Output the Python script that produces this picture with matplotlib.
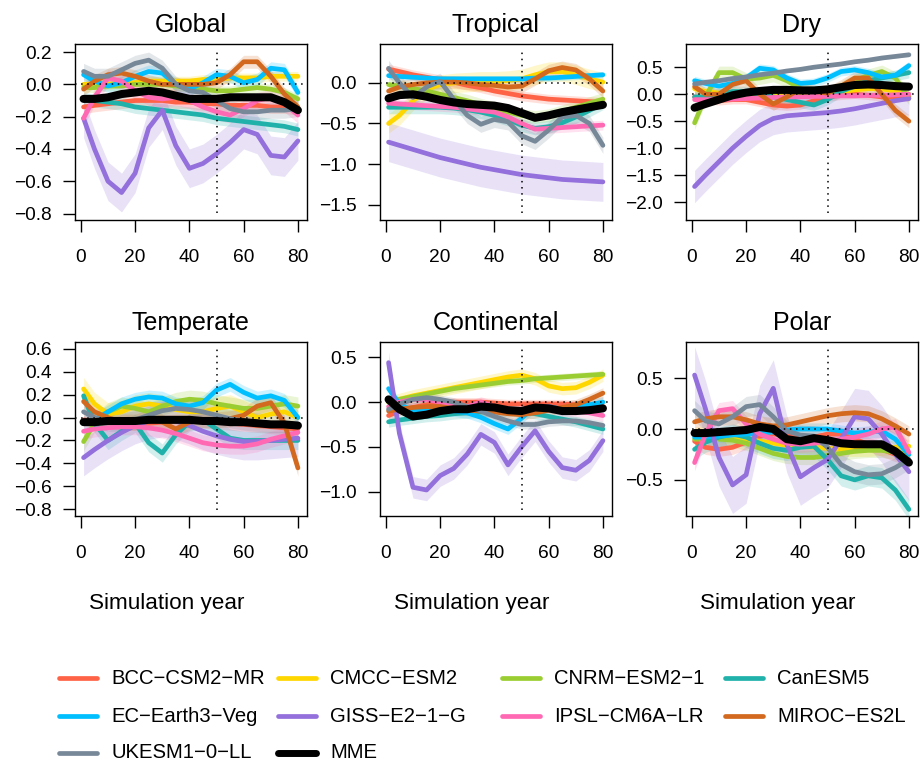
import matplotlib
matplotlib.use("Agg")
import matplotlib.pyplot as plt
import numpy as np
from matplotlib.lines import Line2D

plt.rcParams['font.family'] = ['Liberation Sans', 'DejaVu Sans']

# smoothed anomaly per model, read every 5 simulation years
years = [1, 5, 10, 15, 20, 25, 30, 35, 40, 45, 50, 55, 60, 65, 70, 75, 80]

models = ['BCC-CSM2-MR', 'CMCC-ESM2', 'CNRM-ESM2-1', 'CanESM5',
          'EC-Earth3-Veg', 'GISS-E2-1-G', 'IPSL-CM6A-LR', 'MIROC-ES2L',
          'UKESM1-0-LL', 'MME']
colours = ['tomato', 'gold', 'yellowgreen', 'lightseagreen', 'deepskyblue',
           'mediumpurple', 'hotpink', 'chocolate', 'lightslategray', 'black']

glob = [
    [-0.14, -0.13, -0.12, -0.11, -0.10, -0.10, -0.10, -0.11, -0.11, -0.12, -0.12, -0.13, -0.13, -0.13, -0.14, -0.14, -0.15],
    [0.00, 0.00, 0.00, 0.01, 0.01, 0.02, 0.02, 0.02, 0.02, 0.03, 0.03, 0.04, 0.04, 0.04, 0.05, 0.05, 0.05],
    [-0.02, -0.02, -0.01, -0.01, 0.00, 0.00, 0.00, -0.01, -0.02, -0.03, -0.04, -0.04, -0.03, -0.02, -0.03, -0.05, -0.09],
    [-0.09, -0.10, -0.11, -0.12, -0.14, -0.15, -0.16, -0.17, -0.18, -0.19, -0.21, -0.22, -0.23, -0.24, -0.25, -0.26, -0.28],
    [0.06, 0.02, -0.01, 0.01, 0.05, 0.08, 0.07, 0.00, -0.03, 0.01, 0.06, 0.05, 0.01, 0.03, 0.10, 0.09, -0.05],
    [-0.21, -0.40, -0.60, -0.67, -0.55, -0.27, -0.16, -0.38, -0.52, -0.49, -0.43, -0.36, -0.28, -0.31, -0.44, -0.45, -0.35],
    [-0.21, -0.08, 0.04, 0.02, -0.04, -0.08, -0.09, -0.08, -0.10, -0.14, -0.17, -0.19, -0.15, -0.10, -0.08, -0.12, -0.19],
    [-0.03, 0.02, 0.06, 0.07, 0.05, 0.02, 0.00, 0.00, 0.00, 0.00, 0.01, 0.06, 0.14, 0.14, 0.05, -0.06, -0.14],
    [0.08, 0.05, 0.05, 0.09, 0.13, 0.15, 0.10, 0.00, -0.04, -0.05, -0.10, -0.15, -0.17, -0.17, -0.16, -0.16, -0.15],
    [-0.09, -0.09, -0.08, -0.06, -0.05, -0.04, -0.05, -0.07, -0.09, -0.09, -0.09, -0.08, -0.08, -0.08, -0.08, -0.11, -0.16],
]
glob_ci = [0.04, 0.03, 0.03, 0.04, 0.04, 0.12, 0.05, 0.04, 0.05, 0.0]

tropical = [
    [0.17, 0.14, 0.10, 0.07, 0.04, 0.01, -0.03, -0.06, -0.10, -0.13, -0.16, -0.18, -0.20, -0.21, -0.22, -0.23, -0.24],
    [-0.50, -0.40, -0.22, -0.08, -0.02, 0.00, 0.01, 0.02, 0.02, 0.03, 0.05, 0.10, 0.14, 0.14, 0.10, 0.05, 0.01],
    [-0.02, -0.04, -0.07, -0.10, -0.14, -0.18, -0.22, -0.27, -0.31, -0.36, -0.40, -0.42, -0.40, -0.35, -0.30, -0.25, -0.20],
    [-0.30, -0.30, -0.30, -0.30, -0.30, -0.31, -0.33, -0.36, -0.40, -0.45, -0.52, -0.56, -0.54, -0.49, -0.42, -0.34, -0.25],
    [0.09, 0.08, 0.07, 0.06, 0.05, 0.05, 0.05, 0.05, 0.05, 0.05, 0.05, 0.06, 0.06, 0.07, 0.08, 0.09, 0.10],
    [-0.73, -0.77, -0.82, -0.87, -0.92, -0.96, -1.00, -1.04, -1.07, -1.10, -1.13, -1.15, -1.17, -1.19, -1.20, -1.21, -1.22],
    [-0.25, -0.26, -0.27, -0.28, -0.29, -0.30, -0.32, -0.34, -0.36, -0.42, -0.50, -0.57, -0.56, -0.55, -0.54, -0.53, -0.52],
    [-0.10, -0.05, -0.02, 0.00, 0.01, 0.01, 0.00, -0.02, -0.03, -0.05, -0.04, 0.05, 0.15, 0.19, 0.16, 0.05, -0.10],
    [0.18, 0.00, -0.18, -0.05, 0.02, -0.20, -0.40, -0.51, -0.45, -0.48, -0.65, -0.72, -0.58, -0.42, -0.40, -0.50, -0.77],
    [-0.19, -0.15, -0.14, -0.17, -0.21, -0.24, -0.26, -0.27, -0.28, -0.31, -0.37, -0.43, -0.40, -0.36, -0.33, -0.30, -0.27],
]
tropical_ci = [0.06, 0.12, 0.08, 0.08, 0.04, 0.24, 0.06, 0.08, 0.10, 0.0]

dry = [
    [-0.05, -0.10, -0.12, -0.10, -0.10, -0.15, -0.20, -0.22, -0.20, -0.12, -0.05, -0.02, 0.00, -0.02, -0.05, -0.05, -0.05],
    [0.10, 0.05, 0.02, 0.00, 0.00, 0.02, 0.03, 0.03, 0.02, 0.02, 0.03, 0.05, 0.08, 0.10, 0.10, 0.05, 0.00],
    [-0.53, -0.05, 0.40, 0.40, 0.28, 0.30, 0.35, 0.25, 0.10, 0.02, 0.02, 0.12, 0.25, 0.35, 0.42, 0.30, -0.08],
    [-0.05, -0.05, 0.00, 0.05, 0.05, 0.00, -0.05, -0.10, -0.15, -0.20, -0.10, 0.05, 0.15, 0.25, 0.30, 0.35, 0.40],
    [0.25, 0.20, 0.15, 0.20, 0.30, 0.48, 0.45, 0.30, 0.20, 0.22, 0.30, 0.42, 0.45, 0.40, 0.32, 0.35, 0.53],
    [-1.71, -1.50, -1.25, -1.00, -0.78, -0.58, -0.45, -0.40, -0.38, -0.36, -0.34, -0.31, -0.27, -0.22, -0.17, -0.12, -0.08],
    [-0.10, -0.10, -0.10, -0.09, -0.08, -0.07, -0.06, -0.05, -0.05, -0.04, -0.04, -0.03, -0.03, -0.02, -0.02, -0.01, 0.00],
    [0.14, 0.00, 0.00, 0.18, 0.25, 0.00, -0.18, -0.05, 0.10, 0.05, 0.02, 0.15, 0.30, 0.30, 0.00, -0.30, -0.50],
    [0.19, 0.22, 0.25, 0.29, 0.32, 0.36, 0.39, 0.43, 0.46, 0.50, 0.53, 0.56, 0.60, 0.63, 0.67, 0.70, 0.73],
    [-0.25, -0.18, -0.10, -0.02, 0.03, 0.06, 0.08, 0.08, 0.07, 0.07, 0.09, 0.13, 0.17, 0.18, 0.17, 0.15, 0.14],
]
dry_ci = [0.08, 0.08, 0.12, 0.10, 0.08, 0.30, 0.04, 0.12, 0.03, 0.0]

temperate = [
    [-0.02, -0.03, -0.04, -0.05, -0.05, -0.05, -0.04, -0.03, -0.03, -0.03, -0.04, -0.05, -0.06, -0.07, -0.08, -0.09, -0.10],
    [0.25, 0.12, 0.03, 0.05, 0.10, 0.12, 0.10, 0.07, 0.05, 0.05, 0.08, 0.10, 0.05, 0.00, 0.03, 0.05, 0.00],
    [-0.21, -0.05, 0.05, 0.10, 0.08, 0.05, 0.10, 0.14, 0.16, 0.15, 0.12, 0.10, 0.08, 0.08, 0.10, 0.12, 0.10],
    [0.19, -0.05, -0.20, -0.12, -0.05, -0.22, -0.31, -0.15, -0.04, -0.02, -0.10, -0.18, -0.20, -0.20, -0.20, -0.20, -0.20],
    [-0.05, -0.02, 0.05, 0.12, 0.16, 0.18, 0.17, 0.12, 0.10, 0.13, 0.24, 0.29, 0.22, 0.17, 0.19, 0.15, 0.00],
    [-0.35, -0.28, -0.20, -0.13, -0.07, -0.03, -0.01, -0.03, -0.07, -0.12, -0.16, -0.19, -0.21, -0.21, -0.20, -0.19, -0.18],
    [-0.12, -0.10, -0.09, -0.08, -0.08, -0.09, -0.11, -0.14, -0.18, -0.22, -0.24, -0.25, -0.25, -0.23, -0.19, -0.16, -0.13],
    [0.14, 0.05, 0.00, -0.04, -0.04, 0.00, -0.04, -0.10, -0.04, -0.02, -0.02, -0.01, 0.02, 0.10, 0.13, -0.05, -0.44],
    [0.05, 0.00, -0.04, -0.04, -0.02, 0.02, 0.06, 0.08, 0.07, 0.05, 0.02, -0.01, -0.03, -0.04, -0.05, -0.05, -0.06],
    [-0.04, -0.04, -0.03, -0.03, -0.03, -0.02, -0.02, -0.02, -0.02, -0.03, -0.03, -0.04, -0.04, -0.05, -0.06, -0.06, -0.07],
]
temperate_ci = [0.06, 0.10, 0.08, 0.08, 0.06, 0.16, 0.07, 0.07, 0.08, 0.0]

continental = [
    [-0.15, -0.10, -0.06, -0.03, -0.01, 0.00, 0.00, 0.00, -0.01, -0.02, -0.02, -0.02, -0.02, -0.02, -0.03, -0.04, -0.05],
    [0.00, 0.03, 0.07, 0.10, 0.13, 0.16, 0.19, 0.22, 0.25, 0.28, 0.30, 0.26, 0.18, 0.15, 0.16, 0.22, 0.30],
    [0.00, 0.03, 0.06, 0.09, 0.12, 0.15, 0.17, 0.19, 0.21, 0.23, 0.24, 0.26, 0.27, 0.28, 0.29, 0.30, 0.31],
    [-0.22, -0.20, -0.18, -0.16, -0.15, -0.13, -0.12, -0.11, -0.10, -0.10, -0.11, -0.13, -0.16, -0.19, -0.22, -0.26, -0.30],
    [0.15, -0.02, -0.10, -0.10, -0.10, -0.10, -0.12, -0.17, -0.24, -0.30, -0.18, -0.05, -0.05, -0.08, -0.06, -0.03, 0.00],
    [0.44, -0.35, -0.95, -0.98, -0.82, -0.74, -0.58, -0.36, -0.45, -0.70, -0.50, -0.32, -0.55, -0.73, -0.76, -0.65, -0.43],
    [-0.05, 0.00, 0.03, 0.03, 0.00, -0.05, -0.05, 0.00, -0.05, -0.08, -0.10, -0.05, -0.05, -0.10, -0.10, -0.12, -0.15],
    [-0.10, -0.08, -0.06, -0.05, -0.05, -0.07, -0.09, -0.10, -0.11, -0.13, -0.14, -0.12, -0.09, -0.06, -0.03, 0.03, 0.10],
    [-0.08, -0.02, 0.03, 0.05, 0.03, 0.00, -0.05, -0.10, -0.16, -0.21, -0.25, -0.25, -0.22, -0.21, -0.21, -0.23, -0.26],
    [0.03, -0.08, -0.16, -0.14, -0.10, -0.08, -0.08, -0.05, -0.06, -0.09, -0.10, -0.06, -0.07, -0.10, -0.10, -0.09, -0.07],
]
continental_ci = [0.05, 0.07, 0.04, 0.06, 0.06, 0.12, 0.06, 0.06, 0.05, 0.0]

polar = [
    [-0.12, -0.18, -0.20, -0.18, -0.13, -0.07, -0.05, -0.06, -0.08, -0.08, -0.05, -0.05, -0.10, -0.15, -0.20, -0.25, -0.30],
    [-0.05, -0.05, -0.06, -0.08, -0.10, -0.12, -0.14, -0.16, -0.17, -0.18, -0.19, -0.20, -0.20, -0.20, -0.19, -0.18, -0.17],
    [-0.10, -0.10, -0.10, -0.11, -0.14, -0.19, -0.24, -0.27, -0.28, -0.28, -0.26, -0.24, -0.22, -0.21, -0.21, -0.23, -0.25],
    [-0.20, -0.13, -0.08, -0.05, -0.08, -0.14, -0.19, -0.21, -0.18, -0.17, -0.30, -0.46, -0.50, -0.46, -0.48, -0.60, -0.79],
    [-0.08, -0.08, -0.07, -0.06, -0.05, -0.04, -0.03, -0.01, 0.00, 0.00, 0.00, -0.02, -0.04, -0.03, -0.02, -0.10, -0.25],
    [0.53, 0.20, -0.28, -0.55, -0.45, 0.15, 0.40, -0.15, -0.47, -0.38, -0.30, -0.10, 0.12, 0.10, -0.05, -0.25, -0.42],
    [-0.33, -0.05, 0.18, 0.20, 0.05, -0.05, -0.10, -0.14, -0.15, -0.14, -0.12, -0.10, -0.08, -0.05, 0.00, 0.02, -0.23],
    [0.07, 0.10, 0.12, 0.12, 0.09, 0.05, 0.03, 0.04, 0.07, 0.10, 0.13, 0.15, 0.16, 0.15, 0.10, 0.03, -0.05],
    [0.18, 0.08, 0.05, 0.12, 0.22, 0.24, 0.12, -0.02, -0.06, -0.07, -0.18, -0.35, -0.42, -0.45, -0.44, -0.38, -0.30],
    [-0.04, -0.04, -0.03, -0.02, -0.01, 0.02, 0.00, -0.10, -0.12, -0.09, -0.11, -0.14, -0.15, -0.15, -0.15, -0.22, -0.33],
]
polar_ci = [0.07, 0.07, 0.07, 0.10, 0.06, 0.28, 0.08, 0.08, 0.10, 0.0]

panels = [
    ('Global', glob, glob_ci, (-0.84, 0.25), [-0.8, -0.6, -0.4, -0.2, 0.0, 0.2]),
    ('Tropical', tropical, tropical_ci, (-1.69, 0.48), [-1.5, -1.0, -0.5, 0.0]),
    ('Dry', dry, dry_ci, (-2.33, 0.93), [-2.0, -1.5, -1.0, -0.5, 0.0, 0.5]),
    ('Temperate', temperate, temperate_ci, (-0.86, 0.66), [-0.8, -0.6, -0.4, -0.2, 0.0, 0.2, 0.4, 0.6]),
    ('Continental', continental, continental_ci, (-1.27, 0.67), [-1.0, -0.5, 0.0, 0.5]),
    ('Polar', polar, polar_ci, (-0.855, 0.855), [-0.5, 0.0, 0.5]),
]

W, H = 922, 763
fig = plt.figure(figsize=(W / 100, H / 100), dpi=100)

lefts = [75, 380, 686]
tops = [44, 342]
heights = [176, 174]
aw = 231.5

def minus(s):
    return s.replace('-', '\u2212')

for k, (title, vals, ci, ylim, yt) in enumerate(panels):
    r, c = divmod(k, 3)
    ax = fig.add_axes([lefts[c] / W, 1 - (tops[r] + heights[r]) / H, aw / W, heights[r] / H])
    x = np.array(years)
    for m in range(len(models)):
        y = np.array(vals[m])
        if ci[m] > 0:
            ax.fill_between(x, y - ci[m], y + ci[m], color=colours[m], alpha=0.2, lw=0, zorder=1)
    for m in range(len(models)):
        ax.plot(x, vals[m], color=colours[m], lw=5.8 if m == 9 else 3.4,
                solid_capstyle='round', solid_joinstyle='round', zorder=3 if m == 9 else 2)
    ax.axhline(0, color='black', ls=(0, (1, 3)), lw=1.1, zorder=4)
    ax.axvline(50, ymin=0.04 / 1.08, ymax=1.04 / 1.08, color='black', ls=(0, (1, 3)), lw=1.1, zorder=4)

    ax.set_xlim(-2.16, 83.16)
    ax.set_ylim(*ylim)
    ax.set_xticks([0, 20, 40, 60, 80])
    ax.set_yticks(yt)
    ax.set_yticklabels([minus(f'{v:.1f}') for v in yt])
    ax.tick_params(axis='both', direction='out', length=8.6, width=1.0, labelsize=13.8)
    ax.tick_params(axis='x', pad=12.5)
    ax.tick_params(axis='y', pad=8)
    for sp in ax.spines.values():
        sp.set_linewidth(1.0)
    ax.set_title(title, fontsize=18, pad=8.5)

    if r == 1:
        fig.text((lefts[c] + aw / 2 - 24) / W, 1 - 604 / H, 'Simulation year',
                 ha='center', va='center', fontsize=16.2)

# legend, four columns by three rows below the panels
col_x = [59, 278, 502, 725]
row_y = [678, 716, 753]
for i, name in enumerate(models):
    rr, cc = divmod(i, 4)
    x0 = col_x[cc]
    yy = 1 - row_y[rr] / H
    fig.add_artist(Line2D([x0 / W, (x0 + 38) / W], [yy, yy], transform=fig.transFigure,
                          color=colours[i], lw=5.0 if i == 9 else 3.4, solid_capstyle='round'))
    fig.text((x0 + 52) / W, yy, minus(name), ha='left', va='center', fontsize=14.6)

fig.savefig('out.png', dpi=100)
